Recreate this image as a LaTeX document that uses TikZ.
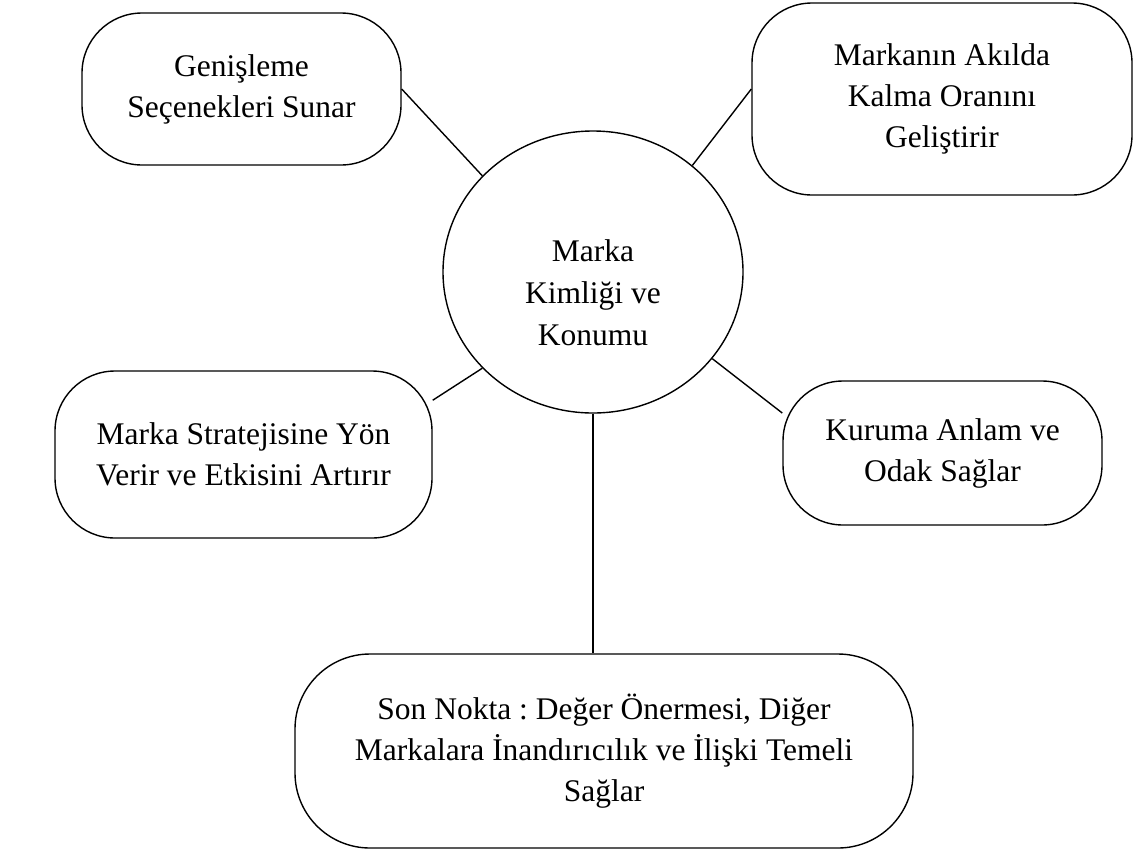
\documentclass[tikz,border=0pt]{standalone}
\usepackage{fontspec}
\setmainfont{Liberation Serif}
\frenchspacing
\usetikzlibrary{shapes.geometric,calc}
\tikzset{
  box/.style={draw,line width=1.4pt,rounded corners=60pt,align=center,inner sep=0pt,font=\fontsize{31.5}{41}\selectfont},
  hub/.style={draw,ellipse,line width=1.4pt,inner sep=0pt,minimum width=300pt,minimum height=282pt},
  txt/.style={align=center,inner sep=0pt,font=\fontsize{31.5}{42}\selectfont},
  ln/.style={line width=1.4pt},
}
\begin{document}
\begin{tikzpicture}[x=1pt,y=-1pt]
\useasboundingbox (0,0) rectangle (1134,855);
% centre
\node[hub] (hub) at (593,272) {};
\node[txt] (hubtxt) at (593,293) {Marka\\Kimliği ve\\Konumu};
% outer boxes
\node[box,minimum width=319pt,minimum height=152pt] (gen) at (241.5,89) {Genişleme\\Seçenekleri Sunar};
\node[box,minimum width=380pt,minimum height=192pt] (mark) at (942,99) {Markanın Akılda\\Kalma Oranını\\Geliştirir};
\node[box,minimum width=377pt,minimum height=167pt] (strat) at (243.5,454.5) {Marka Stratejisine Yön\\Verir ve Etkisini Artırır};
\node[box,minimum width=319pt,minimum height=144pt] (kurum) at (942.5,453) {Kuruma Anlam ve\\Odak Sağlar};
\node[box,minimum width=618pt,minimum height=194pt,rounded corners=75pt] (son) at (604,751) {Son Nokta : Değer Önermesi, Diğer\\Markalara İnandırıcılık ve İlişki Temeli\\Sağlar};
% connectors
\draw[ln] (gen.east) -- (hub.139);
\draw[ln] (mark.177) -- (hub.47);
\draw[ln] (strat.16) -- (hub.221);
\draw[ln] (kurum.166) -- (hub.324);
\draw[ln] (hub.south) -- (hub.south |- son.north);
\end{tikzpicture}
\end{document}
